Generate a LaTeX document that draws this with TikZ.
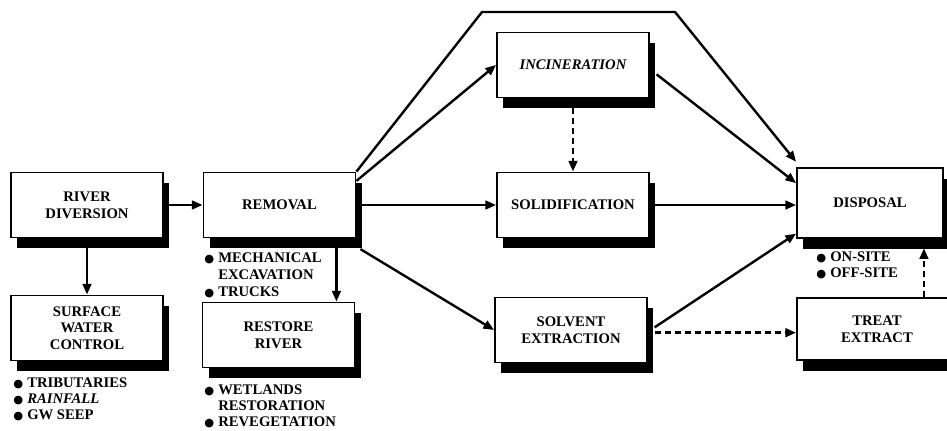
\documentclass[tikz,border=0pt]{standalone}
\usepackage{fontspec}
\setmainfont{Liberation Serif}
\newfontfamily\symfont{DejaVu Sans}
\usetikzlibrary{arrows.meta,shadows}
\newcommand{\blt}{\makebox[10.5pt][l]{\symfont\fontsize{8.5}{8}\selectfont ●}}

\begin{document}
\begin{tikzpicture}[x=0.75pt,y=0.75pt,yscale=-1,xscale=1,
  stepbox/.style={draw,line width=1.4pt,fill=white,align=center,inner sep=0.75pt,
    minimum width=114pt,minimum height=48.75pt,
    font=\fontsize{11}{12.5}\selectfont\bfseries,
    drop shadow={shadow xshift=4.5pt,shadow yshift=-8pt,fill=black,opacity=1}},
  notes/.style={anchor=north west,inner sep=0.75pt,align=left,
    font=\fontsize{11}{12}\selectfont\bfseries},
  flow/.style={line width=1.8pt,-{Triangle[length=8pt,width=6.5pt]}},
  dflow/.style={flow,dash pattern=on 4.5pt off 3pt}]
\useasboundingbox (0,0) rectangle (947,430);

%Shape: Boxes
\node[stepbox] (rivdiv) at (87,205) {RIVER\\DIVERSION};
\node[stepbox] (swc) at (87,328) {SURFACE\\WATER\\CONTROL};
\node[stepbox] (removal) at (279.5,205) {REMOVAL};
\node[stepbox] (restore) at (278.5,335) {RESTORE\\RIVER};
\node[stepbox] (incin) at (573,65) {\itshape INCINERATION};
\node[stepbox] (solid) at (573,205) {SOLIDIFICATION};
\node[stepbox] (solvent) at (571,330) {SOLVENT\\EXTRACTION};
\node[stepbox,minimum width=109.5pt,minimum height=52.5pt] (disposal) at (870,203) {DISPOSAL};
\node[stepbox,minimum width=120pt,minimum height=47pt] (treat) at (877,329) {TREAT\\EXTRACT};

%Bend points of the by-pass line
\coordinate (topl) at (482,12);
\coordinate (topr) at (675,12);

%Straight Lines (yshift is flipped by yscale=-1)
\draw[flow] (rivdiv.east) -- (rivdiv.east -| removal.west);
\draw[flow] (rivdiv.south) -- (swc.north);
\draw[flow] ([xshift=-15pt]removal.south east) -- ([xshift=-15pt]removal.south east |- restore.north);
\draw[flow] (removal.north east) -- (topl) -- (topr) -- ([yshift=-4pt]disposal.north west);
\draw[flow] ([yshift=7pt]removal.north east) -- (incin.west);
\draw[flow] (removal.east) -- (removal.east -| solid.west);
\draw[flow] ([xshift=3pt,yshift=8pt]removal.south east) -- (solvent.west);
\draw[flow] ([xshift=5pt,yshift=7pt]incin.east) -- ([yshift=12pt]disposal.north west);
\draw[flow] (solid.east) -- (solid.east -| disposal.west);
\draw[flow] ([xshift=5pt,yshift=-2pt]solvent.east) -- ([yshift=-4pt]disposal.south west);
%Dashed Lines
\draw[dflow] (incin.south) -- (solid.north);
\draw[dflow] ([xshift=5pt,yshift=2pt]solvent.east) -- ([yshift=2pt]solvent.east -| treat.west);
\draw[dflow] ([xshift=-15pt]disposal.south east |- treat.north) -- ([xshift=-15pt,yshift=7pt]disposal.south east);

% Text Node
\node[notes] (swcnotes) at (12,377) {\blt TRIBUTARIES\\\blt\textit{RAINFALL}\\\blt GW SEEP};
% Text Node
\node[notes,font=\fontsize{11}{12.75}\selectfont\bfseries] (remnotes) at (203,252) {\blt MECHANICAL\\\hspace*{10.5pt}EXCAVATION\\\blt TRUCKS};
% Text Node
\node[notes] (resnotes) at (203,384) {\blt WETLANDS\\\hspace*{10.5pt}RESTORATION\\\blt REVEGETATION};
% Text Node
\node[notes] (disnotes) at (815,251) {\blt ON-SITE\\\blt OFF-SITE};

\end{tikzpicture}
\end{document}
